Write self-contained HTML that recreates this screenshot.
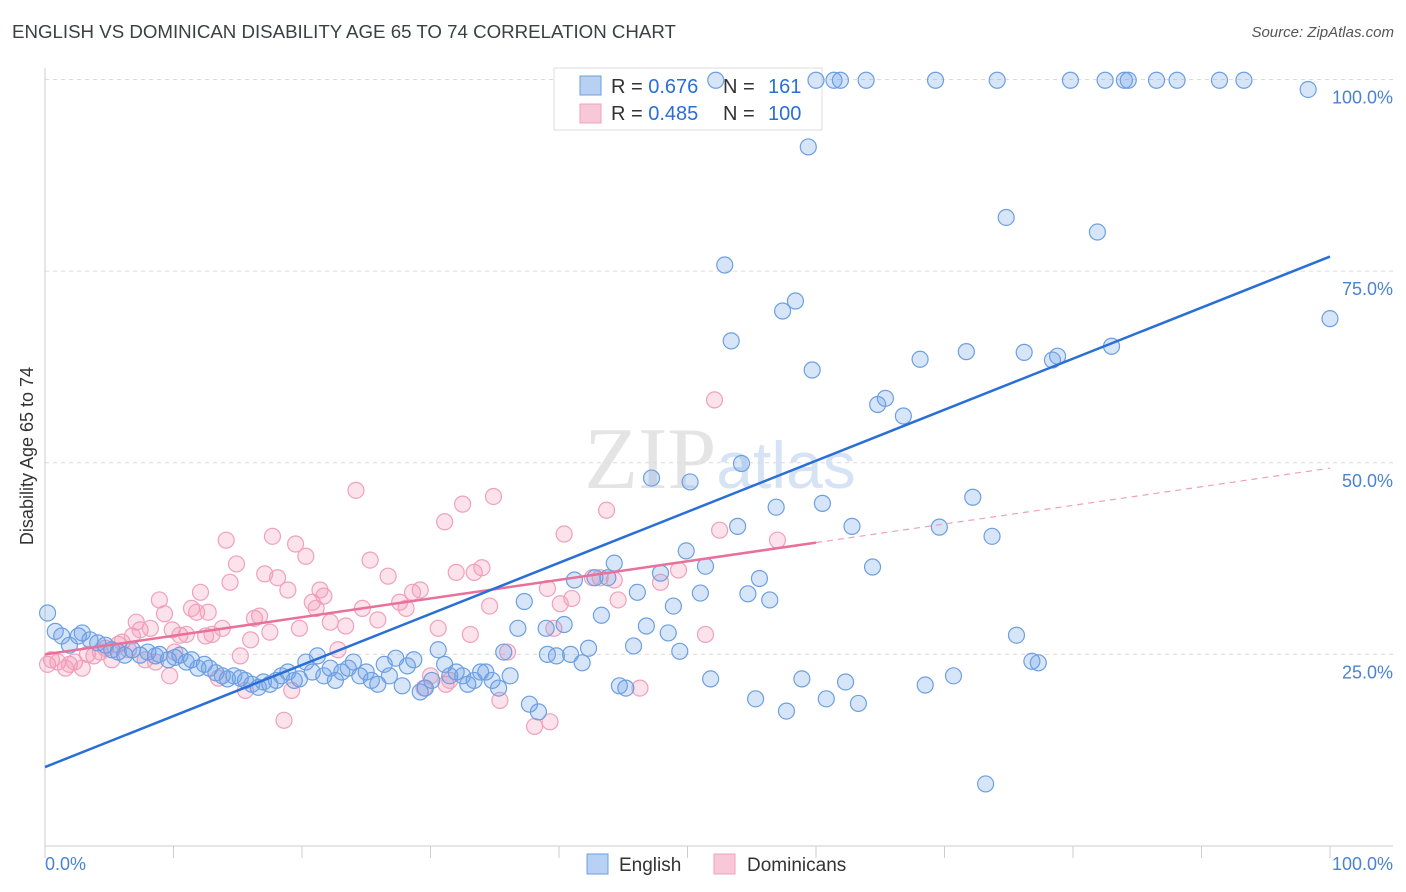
<!DOCTYPE html>
<html><head><meta charset="utf-8">
<style>
body{margin:0;background:#fff;font-family:"Liberation Sans",sans-serif;}
#wrap{position:relative;width:1406px;height:892px;overflow:hidden;}
.t{position:absolute;white-space:nowrap;}
</style></head>
<body>
<div id="wrap">
<div class="t" style="left:12px;top:21px;font-size:18.7px;color:#3c4043;">ENGLISH VS DOMINICAN DISABILITY AGE 65 TO 74 CORRELATION CHART</div>
<div class="t" style="right:12px;top:24px;font-size:15px;color:#555;font-style:italic;">Source: ZipAtlas.com</div>
<svg id="svg" width="1406" height="892" style="position:absolute;left:0;top:0"></svg>
</div>
<script>
const englishX=[0.2,0.8,1.3,1.9,2.6,2.9,3.5,4.1,4.7,5.2,5.7,6.2,6.8,7.4,8.0,8.6,8.9,9.6,10.1,10.5,11.0,11.4,11.9,12.4,12.8,13.3,13.8,14.2,14.7,15.2,15.6,16.1,16.6,17.0,17.5,18.0,18.4,18.9,19.4,19.8,20.3,20.8,21.2,21.7,22.2,22.6,23.1,23.6,24.0,24.5,25.0,25.4,25.9,26.4,26.8,27.3,27.8,28.2,28.7,29.2,29.6,30.1,30.6,31.1,31.5,32.0,32.5,32.9,33.4,33.9,34.3,34.8,35.3,35.7,36.2,36.8,37.3,37.7,38.4,39.0,39.1,39.8,40.4,40.9,41.2,41.8,42.3,42.8,43.3,43.8,44.3,44.7,45.2,45.8,46.1,46.8,47.2,47.9,48.5,48.9,49.4,49.9,50.2,51.0,51.4,51.8,52.9,53.4,53.9,54.2,54.7,55.3,55.6,56.4,56.9,57.4,57.7,58.4,58.9,59.7,59.4,60.5,60.8,61.4,61.9,60.0,62.3,62.8,63.3,63.9,64.4,64.8,65.4,66.8,68.1,68.5,69.3,69.6,70.7,71.7,72.2,73.2,73.7,74.1,74.8,75.6,76.2,76.8,77.3,78.4,78.8,79.8,81.9,82.5,83.0,84.0,84.3,86.5,88.1,91.4,93.3,98.3,100.0,52.2];
const englishY=[30.4,28.0,27.4,26.2,27.4,27.8,26.9,26.5,26.2,25.6,25.3,24.9,25.6,24.9,25.3,24.8,25.0,24.3,24.6,24.9,24.0,24.3,23.2,23.7,23.2,22.6,22.2,21.8,22.2,21.9,21.6,21.1,20.7,21.4,21.1,21.6,22.2,22.7,21.6,21.8,24.0,22.7,24.8,22.2,23.2,21.6,22.7,23.2,24.0,22.2,22.7,21.6,21.1,23.7,22.2,24.5,20.9,23.5,24.3,20.1,20.6,21.6,25.6,23.7,22.2,22.7,22.2,21.1,21.6,22.7,22.7,21.6,20.6,25.3,22.2,28.4,31.9,18.5,17.5,28.4,25.0,24.8,28.9,25.0,34.7,23.9,25.8,35.0,30.1,35.0,36.9,20.9,20.6,26.1,33.1,28.7,48.0,35.6,27.8,31.3,25.4,38.5,47.5,33.0,36.5,21.8,75.8,65.9,41.7,49.9,32.9,19.2,34.9,32.1,44.2,69.8,17.6,71.1,21.8,62.1,91.2,44.7,19.2,99.9,99.9,99.9,21.4,41.7,18.6,99.9,36.4,57.6,58.4,56.1,63.5,21.0,99.9,41.6,22.2,64.5,45.5,8.1,40.4,99.9,82.0,27.5,64.4,24.1,23.9,63.4,63.9,99.9,80.1,99.9,65.2,99.9,99.9,99.9,99.9,99.9,99.9,98.7,68.8,99.9];
const domX=[0.2,0.5,1.0,1.6,1.9,2.3,2.9,3.3,3.8,4.3,4.7,5.2,5.7,6.0,6.5,6.8,7.1,7.4,7.8,8.2,8.6,8.9,9.3,9.7,9.9,10.1,10.5,11.0,11.4,11.8,12.1,12.5,12.7,13.0,13.5,13.8,14.1,14.4,14.9,15.2,15.6,16.0,16.3,16.7,17.1,17.5,17.7,18.1,18.6,18.9,19.2,19.5,19.8,20.3,20.8,21.1,21.4,21.7,22.2,22.8,23.4,24.2,24.7,25.3,25.9,26.7,27.6,28.1,28.6,29.2,29.5,30.0,30.6,31.1,31.2,31.5,32.0,32.5,33.1,33.4,34.0,34.6,34.9,35.4,36.0,38.1,39.3,39.1,39.6,40.1,40.4,41.0,42.6,43.2,43.7,44.3,44.6,46.3,47.9,49.3,51.4,52.1,52.5,57.0];
const domY=[23.7,24.3,24.0,23.2,23.7,24.0,23.2,25.0,24.8,25.3,25.8,24.3,26.3,26.6,25.6,27.4,29.2,28.2,24.3,28.4,24.0,32.1,30.3,22.2,28.2,25.3,27.5,27.6,31.0,30.5,33.1,27.4,30.5,27.6,21.9,28.4,39.9,34.4,36.8,24.8,20.3,26.9,29.7,30.0,35.5,27.9,40.4,35.0,16.4,33.4,20.3,39.4,28.4,37.8,31.8,31.0,33.4,32.6,29.2,25.6,28.7,46.4,31.0,37.3,29.5,35.2,31.8,31.0,33.1,33.4,20.6,22.2,28.4,42.3,21.1,21.6,35.7,44.6,27.6,35.7,36.3,31.3,45.6,19.0,25.3,15.6,16.2,33.6,28.4,31.6,40.7,32.3,35.0,35.0,43.8,34.7,32.1,20.6,34.4,36.0,27.6,58.2,41.2,39.9];
const englishFit=[10.3,76.9];
const domFit=[25.0,49.3];
const domFitEnd=60;
const yTicks=[25,50,75,100];
const yTickLabels=["25.0%","50.0%","75.0%","100.0%"];

const X0=45,X1=1330,Y0=846,Y1=79.5;
const sx=v=>X0+(X1-X0)*v/100;
const sy=v=>Y0-(Y0-Y1)*v/100;
const svg=document.getElementById('svg');
const NS='http://www.w3.org/2000/svg';
function mk(tag,attrs,parent){const e=document.createElementNS(NS,tag);for(const k in attrs)e.setAttribute(k,attrs[k]);(parent||svg).appendChild(e);return e;}

let wm=mk('text',{x:720,y:488,'text-anchor':'middle','font-size':88,'font-family':'Liberation Serif, serif','fill':'#e4e4e4'});


wm.innerHTML='ZIP<tspan fill="#d5e3f5" font-family="Liberation Sans, sans-serif" font-size="66">atlas</tspan>';

yTicks.forEach((t,i)=>{
 const g=mk('line',{x1:X0,x2:1393,y1:sy(t),y2:sy(t),stroke:'#dcdcdc','stroke-dasharray':'4,4'});
 
 
 const l=mk('text',{x:1393,y:sy(t)+24,'text-anchor':'end','font-size':18,fill:'#4a82d4'});
 
 
 l.textContent=yTickLabels[i];
});
let ax=mk('line',{x1:X0,x2:1393,y1:Y0,y2:Y0,stroke:'#ccc'});


let ay=mk('line',{x1:X0,x2:X0,y1:68,y2:Y0,stroke:'#ccc'});


for(let i=0;i<=10;i++){
 const tk=mk('line',{x1:sx(i*10),x2:sx(i*10),y1:Y0,y2:858,stroke:'#ccc'});
 
 
}
let xl=mk('text',{x:45,y:870,'font-size':18,fill:'#4a82d4'});xl.textContent='0.0%';


let xr=mk('text',{x:1393,y:870,'text-anchor':'end','font-size':18,fill:'#4a82d4'});xr.textContent='100.0%';


let yt=mk('text',{x:0,y:0,'font-size':18,fill:'#333','text-anchor':'middle',transform:'translate(33,456) rotate(-90)'});
yt.textContent='Disability Age 65 to 74';



// legend box (drawn before points)
let lg=mk('g',{});


mk('rect',{x:554,y:68,width:268,height:62,fill:'#fff',stroke:'#ddd'},lg);
mk('rect',{x:580,y:76,width:21,height:19,fill:'#b8d0f2',stroke:'#6c9fe2'},lg);
mk('rect',{x:580,y:104,width:21,height:19,fill:'#f9c8d8',stroke:'#f0a0bc'},lg);
const rows=[['0.676','161',93],['0.485','100',120]];
rows.forEach(r=>{
 const t=mk('text',{x:611,y:r[2],'font-size':20,fill:'#333'},lg);
 t.innerHTML='R = <tspan fill="#2a6fd6">'+r[0]+'</tspan><tspan x="723">N = </tspan><tspan x="768" fill="#2a6fd6">'+r[1]+'</tspan>';
});

domX.forEach((x,i)=>{
 const c=mk('circle',{cx:sx(x),cy:sy(domY[i]),r:8,fill:'rgba(244,150,180,0.28)',stroke:'#f0a0bc','stroke-width':1.2});
 
 
});
englishX.forEach((x,i)=>{
 const c=mk('circle',{cx:sx(x),cy:sy(englishY[i]),r:8,fill:'rgba(110,160,230,0.28)',stroke:'#6c9fe2','stroke-width':1.2});
 
 
});
const dAt=v=>domFit[0]+(domFit[1]-domFit[0])*v/100;
let pd=mk('line',{x1:sx(domFitEnd),y1:sy(dAt(domFitEnd)),x2:sx(100),y2:sy(domFit[1]),stroke:'#eea0bb','stroke-width':1.2,'stroke-dasharray':'6,5'});


let ps=mk('line',{x1:sx(0),y1:sy(domFit[0]),x2:sx(domFitEnd),y2:sy(dAt(domFitEnd)),stroke:'#e8709a','stroke-width':2.5});


let bl=mk('line',{x1:sx(0),y1:sy(englishFit[0]),x2:sx(100),y2:sy(englishFit[1]),stroke:'#2a6fd6','stroke-width':2.5});



let bg=mk('g',{});


mk('rect',{x:587,y:854,width:21,height:20,fill:'#b8d0f2',stroke:'#6c9fe2'},bg);
let t1=mk('text',{x:619,y:871,'font-size':19,fill:'#333'},bg);t1.textContent='English';
mk('rect',{x:714,y:854,width:21,height:20,fill:'#f9c8d8',stroke:'#f0a0bc'},bg);
let t2=mk('text',{x:747,y:871,'font-size':19,fill:'#333'},bg);t2.textContent='Dominicans';
</script>
</body></html>
